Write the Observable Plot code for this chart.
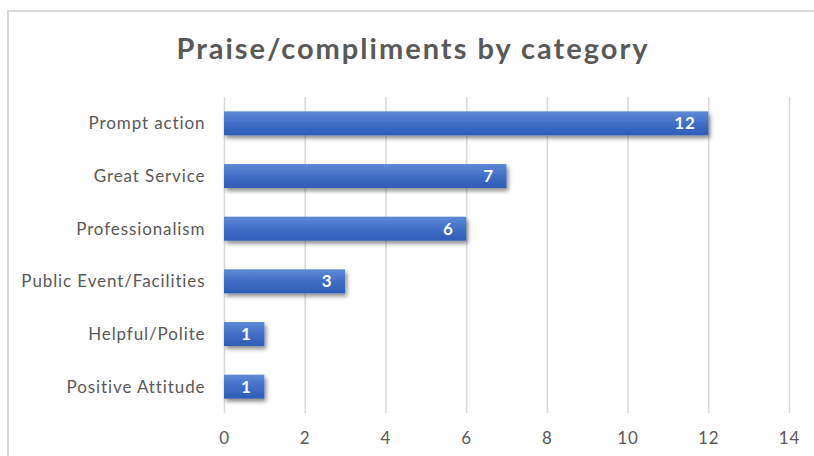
<!DOCTYPE html>
<html>
<head>
<meta charset="utf-8">
<script src="https://cdn.jsdelivr.net/npm/d3@7"></script>
<script src="https://cdn.jsdelivr.net/npm/@observablehq/plot@0.6"></script>
<style>
  html, body { margin: 0; padding: 0; background: #fff; }
  #wrap { position: relative; width: 814px; height: 456px; overflow: hidden; font-family: Lato, "Open Sans", sans-serif; }
  #frame { position: absolute; left: 7px; top: 10px; width: 900px; height: 600px; border-left: 2px solid #d9d9d9; border-top: 2px solid #d9d9d9; box-sizing: border-box; pointer-events: none; }
  #title { height: 80px; box-sizing: border-box; padding-top: 33px; padding-left: 12px; text-align: center; font-size: 29px; letter-spacing: 2px; line-height: 1; font-weight: bold; color: #595959; }
  #chart svg { display: block; }
</style>
</head>
<body>
<div id="wrap">
  <div id="frame"></div>
  <div id="title">Praise/compliments by category</div>
  <div id="chart"></div>
</div>
<script>
const categories = ["Prompt action", "Great Service", "Professionalism", "Public Event/Facilities", "Helpful/Polite", "Positive Attitude"];
const counts = [12, 7, 6, 3, 1, 1];
const xTicks = [0, 2, 4, 6, 8, 10, 12, 14];

const data = categories.map((c, i) => ({category: c, count: counts[i]}));

const chart = Plot.plot({
  width: 814,
  height: 376,
  marginLeft: 224,
  marginRight: 25,
  marginTop: 17,
  marginBottom: 43,
  style: {fontFamily: "Lato, 'Open Sans', sans-serif", fontSize: "17px", letterSpacing: "0.9px", color: "#595959", background: "transparent"},
  x: {domain: [0, 14], ticks: xTicks, tickSize: 0, tickPadding: 18, label: null},
  y: {domain: categories, round: false, paddingInner: 0.545, paddingOuter: 0.2725, tickSize: 0, tickPadding: 19, label: null},
  marks: [
    Plot.gridX(xTicks, {stroke: "#d9d9d9", strokeOpacity: 1, strokeWidth: 1.5}),
    Plot.barX(data, {x: "count", y: "category", fill: "url(#barGrad)"}),
    Plot.text(data, {x: "count", y: "category", text: d => String(d.count), textAnchor: "end", dx: -13, fill: "white", fontWeight: "bold", fontSize: 17})
  ]
});

const ns = "http://www.w3.org/2000/svg";
const defs = document.createElementNS(ns, "defs");
defs.innerHTML = `
  <linearGradient id="barGrad" x1="0" y1="0" x2="0" y2="1">
    <stop offset="0%" stop-color="#5f8ad6"/>
    <stop offset="50%" stop-color="#416ec6"/>
    <stop offset="100%" stop-color="#2f5cb6"/>
  </linearGradient>
  <filter id="barShadow" x="-10%" y="-30%" width="130%" height="180%">
    <feGaussianBlur in="SourceAlpha" stdDeviation="2"/>
    <feOffset dx="2" dy="3" result="blur"/>
    <feComponentTransfer><feFuncA type="linear" slope="0.45"/></feComponentTransfer>
    <feMerge><feMergeNode/><feMergeNode in="SourceGraphic"/></feMerge>
  </filter>`;
chart.insertBefore(defs, chart.firstChild);
chart.querySelectorAll('g[aria-label="bar"] rect').forEach(r => r.setAttribute("filter", "url(#barShadow)"));

document.getElementById("chart").appendChild(chart);
</script>
</body>
</html>
